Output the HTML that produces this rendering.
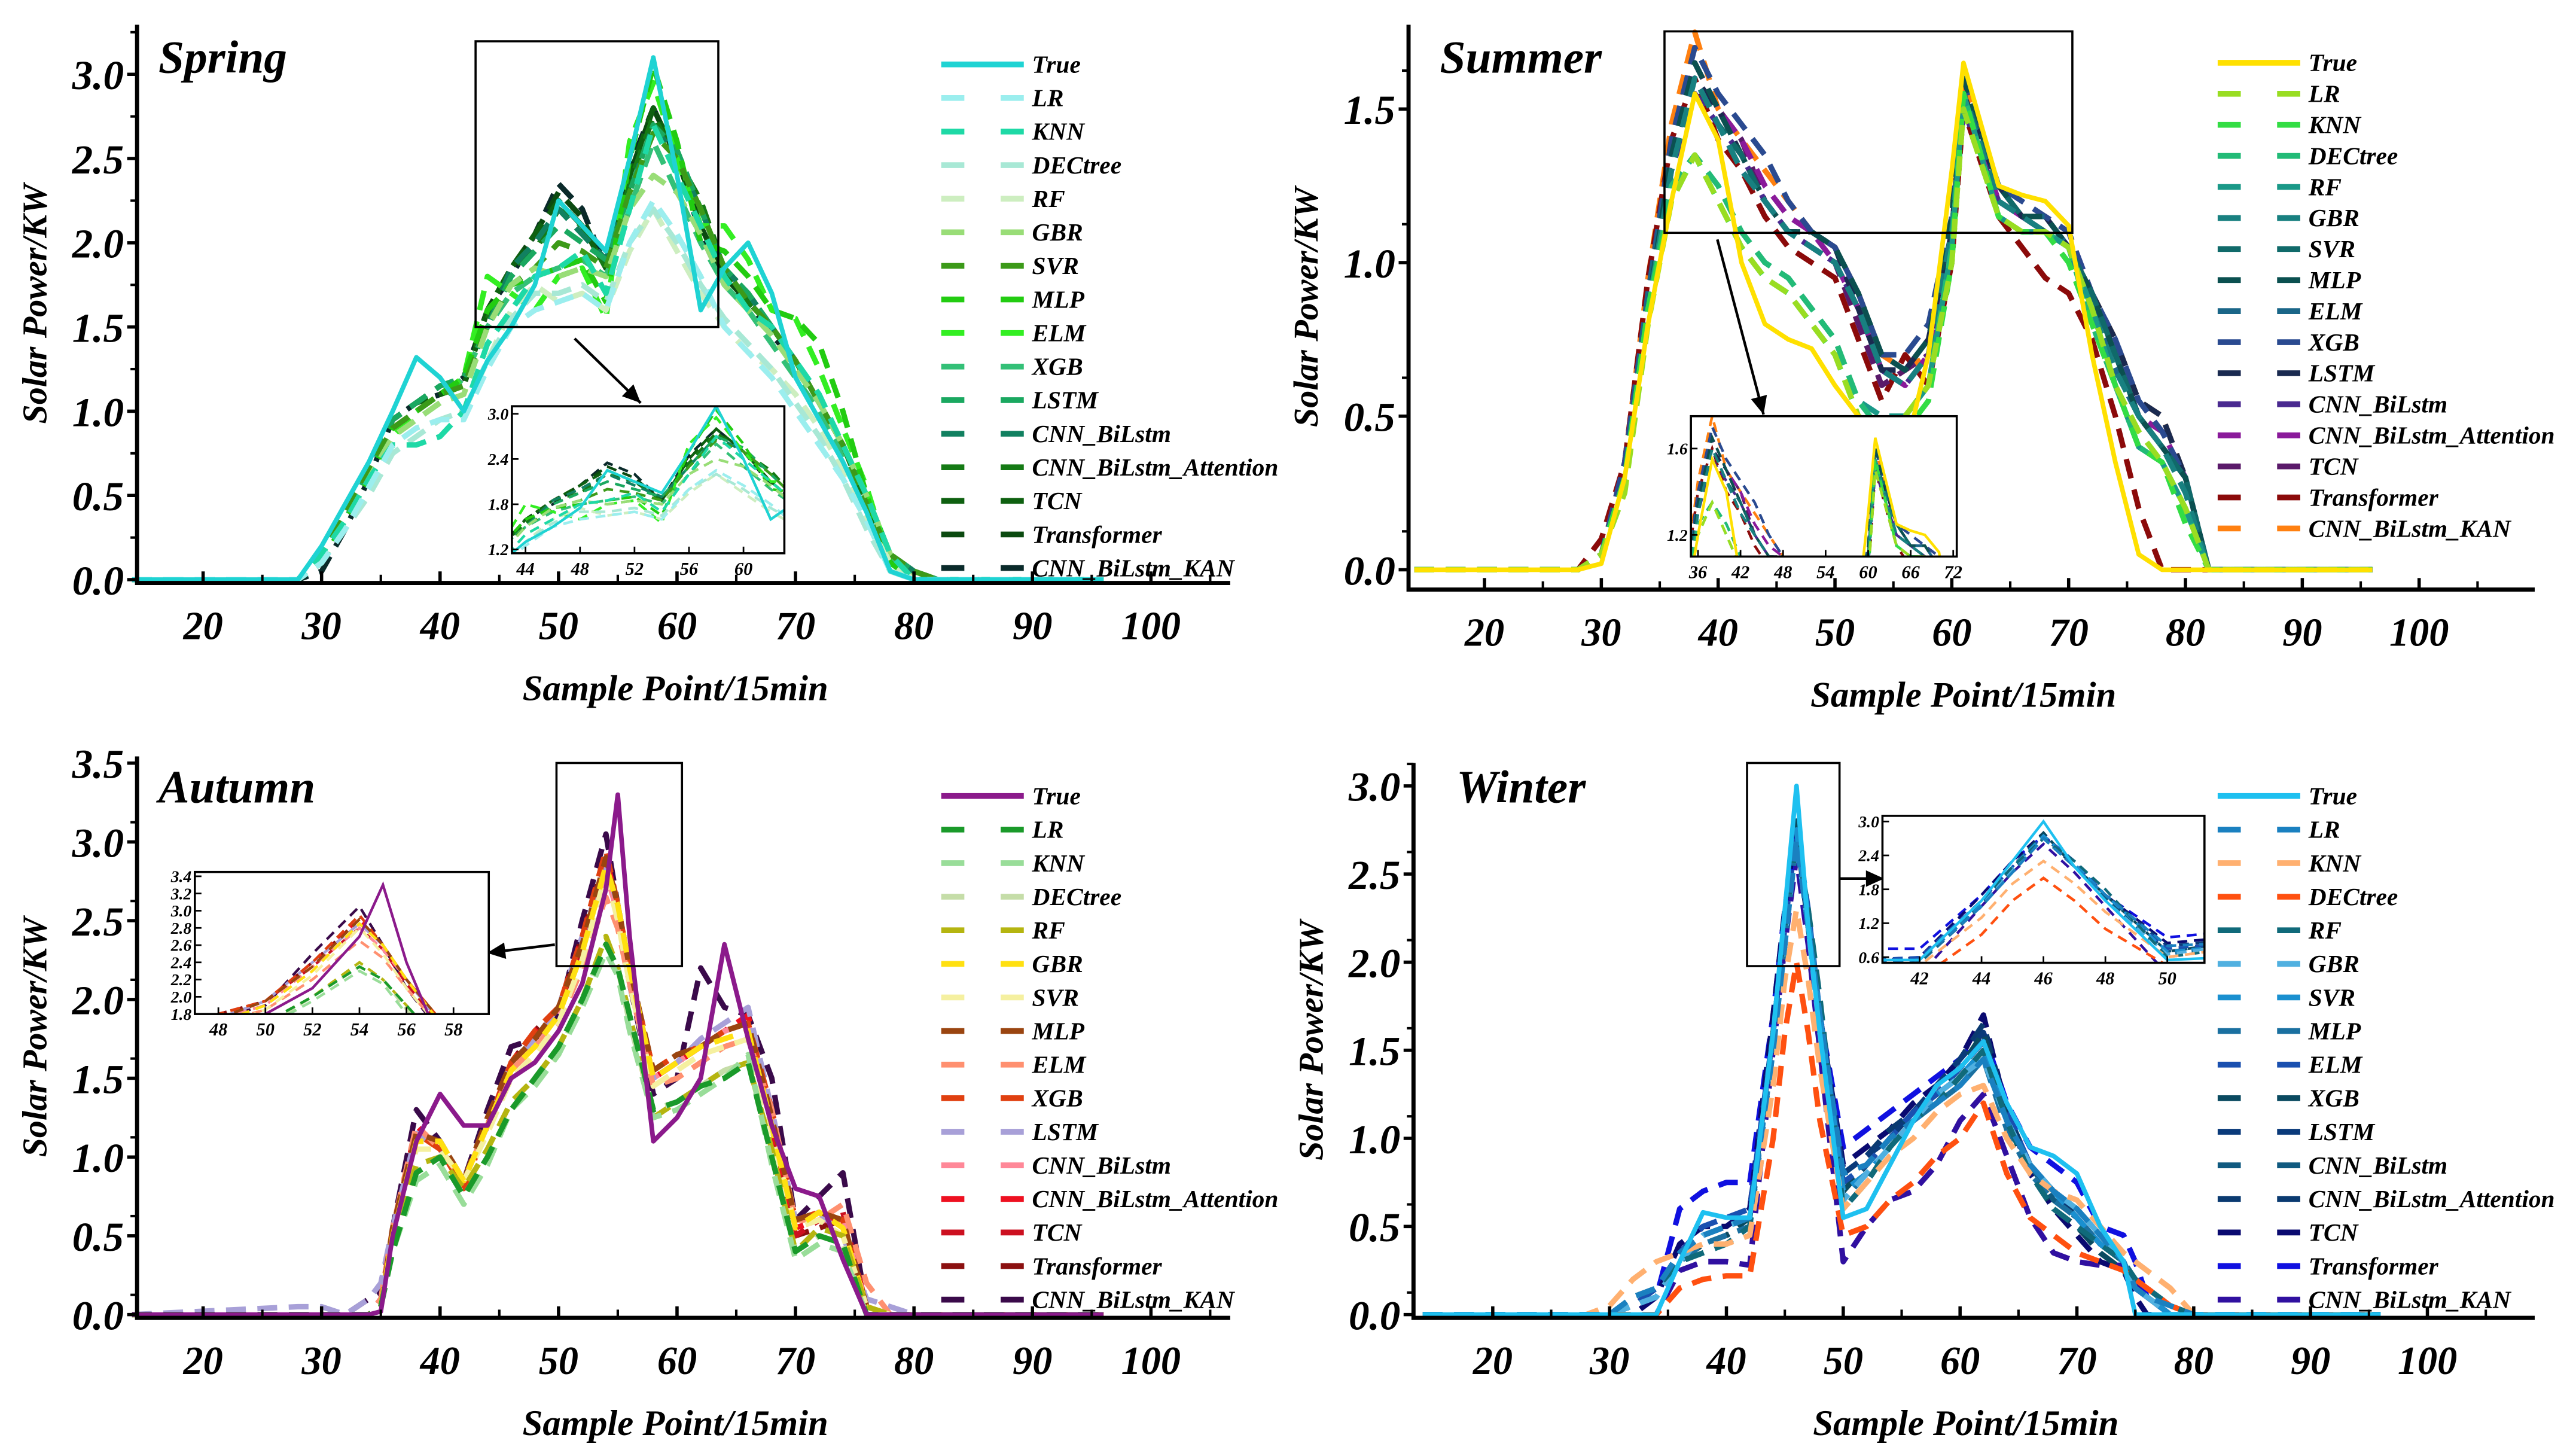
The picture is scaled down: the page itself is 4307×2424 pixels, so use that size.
<!DOCTYPE html>
<html><head><meta charset="utf-8"><style>
html,body{margin:0;padding:0;background:#fff;}
svg{display:block;}
text{font-family:"Liberation Serif",serif;font-weight:bold;font-style:italic;}
</style></head><body>
<svg id="fig" width="4307" height="2424" viewBox="0 0 1560 878" preserveAspectRatio="none" xmlns="http://www.w3.org/2000/svg"></svg>
<script>
const models=["True","LR","KNN","DECtree","RF","GBR","SVR","MLP","ELM","XGB","LSTM","CNN_BiLstm","CNN_BiLstm_Attention","TCN","Transformer","CNN_BiLstm_KAN"];

const springX=[28,30,32,34,36,38,40,42,44,46,48,50,52,54,56,58,60,62,64,66,68,70,72,74,76,78,80,82];
const springY=[
[0,0.2,0.45,0.7,1.0,1.32,1.2,1.0,1.3,1.5,1.75,2.25,2.1,1.95,2.5,3.1,2.4,1.6,1.85,2.0,1.7,1.2,0.95,0.7,0.4,0.05,0,0],
[0,0.1,0.3,0.55,0.8,0.9,0.95,0.95,1.25,1.5,1.6,1.65,1.7,1.6,2.0,2.25,2.05,1.8,1.5,1.35,1.2,1.0,0.8,0.6,0.35,0.05,0,0],
[0,0.15,0.35,0.6,0.8,0.8,0.85,1.0,1.4,1.6,1.8,1.85,1.95,1.7,2.2,2.7,2.4,2.1,1.8,1.6,1.5,1.3,1.1,0.8,0.5,0.15,0,0],
[0,0.1,0.3,0.5,0.75,0.85,0.95,1.0,1.3,1.55,1.7,1.7,1.75,1.65,2.0,2.2,2.0,1.75,1.55,1.4,1.25,1.05,0.85,0.6,0.3,0.05,0,0],
[0,0.1,0.3,0.55,0.8,0.9,0.95,1.0,1.3,1.6,1.75,1.65,1.7,1.6,1.95,2.2,1.95,1.7,1.5,1.35,1.25,1.1,0.9,0.65,0.35,0.1,0,0],
[0,0.15,0.35,0.6,0.85,0.95,1.05,1.1,1.5,1.75,1.85,1.8,1.85,1.8,2.2,2.4,2.3,2.05,1.75,1.6,1.45,1.25,1.05,0.8,0.5,0.15,0,0],
[0,0.15,0.4,0.65,0.9,1.0,1.1,1.15,1.5,1.75,1.85,2.0,1.95,1.85,2.3,2.65,2.5,2.2,1.85,1.65,1.5,1.3,1.05,0.8,0.45,0.15,0.05,0],
[0,0.1,0.35,0.6,0.9,1.0,1.1,1.2,1.6,1.75,1.8,1.85,1.9,1.65,2.5,3.05,2.6,2.0,1.95,1.8,1.6,1.55,1.4,1.0,0.5,0.1,0,0],
[0,0.1,0.35,0.6,0.85,1.0,1.1,1.2,1.8,1.7,1.6,1.8,1.85,1.55,2.6,2.95,2.5,2.1,2.1,1.9,1.6,1.55,1.25,0.9,0.55,0.1,0,0],
[0,0.15,0.35,0.6,0.85,0.95,1.05,1.2,1.5,1.7,1.8,1.85,1.9,1.8,2.2,2.6,2.3,2.0,1.75,1.6,1.4,1.2,1.0,0.75,0.45,0.15,0,0],
[0,0.1,0.35,0.65,0.95,1.05,1.15,1.2,1.5,1.8,1.95,2.1,2.0,1.9,2.3,2.7,2.55,2.2,1.85,1.7,1.5,1.3,1.05,0.8,0.5,0.15,0.05,0],
[0,0.1,0.35,0.65,0.95,1.05,1.15,1.2,1.5,1.85,2.0,2.2,2.05,1.9,2.3,2.7,2.5,2.2,1.85,1.7,1.5,1.3,1.05,0.8,0.5,0.15,0.05,0],
[0,0.1,0.35,0.65,0.95,1.05,1.15,1.2,1.55,1.85,1.95,2.2,2.1,1.85,2.35,2.75,2.5,2.25,1.85,1.65,1.5,1.3,1.05,0.8,0.45,0.15,0.05,0],
[0,0.1,0.35,0.65,0.95,1.05,1.1,1.15,1.6,1.85,2.05,2.25,2.1,1.85,2.4,2.8,2.5,2.1,1.8,1.7,1.5,1.3,1.05,0.8,0.5,0.15,0.05,0],
[0,0.1,0.35,0.65,0.95,1.05,1.1,1.2,1.6,1.85,2.05,2.3,2.15,1.85,2.4,2.8,2.5,2.1,1.8,1.65,1.5,1.3,1.05,0.8,0.45,0.1,0.05,0],
[0,0.05,0.3,0.6,0.95,1.05,1.1,1.2,1.6,1.8,2.05,2.35,2.2,1.85,2.45,2.8,2.5,2.05,1.75,1.65,1.45,1.3,1.05,0.8,0.45,0.1,0.05,0]];
const springColors=["#1fd3d3","#9beeee","#1ed9a6","#a8e8d5","#cdeec0","#99dd77","#3c9a19","#22cc11","#33ee22","#33c077","#1aa860","#118060","#157a15","#0e6010","#0b4a10","#0a2a2a"];

const summerX=[28,30,32,34,36,38,40,42,44,46,48,50,52,54,56,58,60,61,64,66,68,70,72,74,76,78,80,82];
const summerY=[
[0,0.02,0.3,0.8,1.2,1.55,1.4,1.0,0.8,0.75,0.72,0.6,0.5,0.45,0.38,0.7,1.3,1.65,1.25,1.22,1.2,1.12,0.7,0.35,0.05,0,0,0],
[0,0.05,0.25,0.8,1.2,1.35,1.2,1.05,0.95,0.9,0.8,0.7,0.5,0.45,0.5,0.6,1.0,1.5,1.15,1.1,1.1,1.05,0.85,0.6,0.45,0.35,0.2,0],
[0,0.05,0.3,0.85,1.2,1.35,1.2,1.05,0.95,0.9,0.8,0.7,0.5,0.4,0.45,0.55,1.0,1.55,1.15,1.1,1.1,1.0,0.8,0.6,0.4,0.35,0.15,0],
[0,0.05,0.3,0.85,1.25,1.35,1.25,1.1,1.0,0.95,0.85,0.75,0.55,0.45,0.5,0.6,1.05,1.55,1.15,1.1,1.1,1.05,0.8,0.6,0.4,0.35,0.2,0],
[0,0.05,0.3,0.85,1.25,1.35,1.25,1.1,1.0,0.95,0.85,0.75,0.55,0.5,0.5,0.6,1.05,1.55,1.15,1.1,1.1,1.05,0.85,0.6,0.4,0.35,0.2,0],
[0,0.05,0.3,0.85,1.3,1.6,1.45,1.3,1.2,1.1,1.05,1.0,0.85,0.65,0.6,0.7,1.1,1.55,1.2,1.15,1.1,1.05,0.85,0.65,0.5,0.4,0.25,0],
[0,0.05,0.3,0.85,1.3,1.6,1.45,1.35,1.2,1.1,1.05,1.0,0.85,0.65,0.6,0.7,1.1,1.55,1.25,1.15,1.1,1.05,0.9,0.7,0.5,0.4,0.3,0],
[0,0.05,0.3,0.85,1.35,1.65,1.5,1.35,1.2,1.1,1.1,1.05,0.9,0.7,0.65,0.75,1.15,1.6,1.25,1.15,1.15,1.05,0.9,0.7,0.5,0.4,0.3,0],
[0,0.05,0.3,0.9,1.35,1.6,1.45,1.3,1.2,1.1,1.05,1.0,0.85,0.65,0.6,0.7,1.1,1.55,1.2,1.15,1.15,1.05,0.85,0.65,0.5,0.4,0.3,0],
[0,0.05,0.35,0.9,1.4,1.7,1.55,1.45,1.35,1.2,1.1,1.05,0.9,0.7,0.7,0.8,1.15,1.6,1.25,1.2,1.15,1.1,0.9,0.75,0.55,0.45,0.3,0],
[0,0.05,0.3,0.9,1.35,1.6,1.5,1.35,1.2,1.1,1.1,1.05,0.85,0.65,0.65,0.75,1.1,1.55,1.25,1.15,1.15,1.05,0.9,0.75,0.55,0.5,0.3,0],
[0,0.05,0.3,0.85,1.3,1.55,1.45,1.35,1.2,1.1,1.05,1.0,0.85,0.65,0.6,0.7,1.05,1.5,1.2,1.15,1.1,1.05,0.85,0.7,0.5,0.4,0.3,0],
[0,0.05,0.35,0.9,1.35,1.65,1.5,1.4,1.25,1.15,1.1,1.0,0.85,0.65,0.6,0.7,1.1,1.55,1.2,1.15,1.15,1.1,0.9,0.7,0.5,0.45,0.3,0],
[0,0.05,0.3,0.9,1.35,1.6,1.5,1.4,1.2,1.1,1.05,1.0,0.8,0.6,0.65,0.7,1.1,1.5,1.2,1.15,1.1,1.05,0.85,0.7,0.5,0.4,0.3,0],
[0,0.1,0.35,0.95,1.4,1.6,1.4,1.3,1.15,1.05,1.0,0.95,0.75,0.55,0.7,0.6,1.0,1.5,1.15,1.05,0.95,0.9,0.75,0.5,0.2,0,0,0],
[0,0.05,0.35,0.95,1.45,1.75,1.5,1.4,1.3,1.2,1.1,1.05,0.9,0.7,0.65,0.7,1.1,1.6,1.25,1.15,1.1,1.05,0.9,0.75,0.55,0.5,0.3,0]];
const summerColors=["#ffe000","#99dd22","#33dd44","#22bb77","#1a9988","#188080","#106a6a","#0b5050","#1a6688","#2a4a90","#1a2a50","#4a2a90","#8a1a9a","#5a1a6a","#8b0a0a","#ff8010"];

const autumnX=[28,30,32,34,35,36,38,40,42,44,46,48,50,52,54,55,56,58,60,62,64,66,68,70,72,74,76,78,80,82];
const autumnY=[
[0,0,0,0,0.02,0.5,1.1,1.4,1.2,1.2,1.5,1.6,1.8,2.1,2.7,3.3,2.4,1.1,1.25,1.5,2.35,1.75,1.2,0.8,0.75,0.35,0,0,0,0],
[0,0,0,0,0.05,0.4,0.9,1.0,0.75,1.0,1.3,1.5,1.7,2.0,2.35,2.2,1.9,1.3,1.35,1.45,1.5,1.6,1.0,0.4,0.5,0.45,0,0,0,0],
[0,0,0,0,0.05,0.4,0.85,0.95,0.7,0.95,1.3,1.45,1.65,1.95,2.3,2.15,1.8,1.25,1.3,1.4,1.5,1.65,0.95,0.35,0.45,0.4,0,0,0,0],
[0,0,0,0,0.05,0.4,0.9,1.0,0.75,1.0,1.3,1.5,1.65,2.0,2.35,2.2,1.85,1.3,1.35,1.45,1.55,1.6,1.0,0.4,0.5,0.45,0,0,0,0],
[0,0,0,0,0.05,0.45,0.95,1.0,0.8,1.05,1.35,1.5,1.7,2.0,2.4,2.2,1.9,1.25,1.35,1.45,1.55,1.6,1.05,0.4,0.55,0.5,0.05,0,0,0],
[0,0,0,0,0.05,0.5,1.1,1.1,0.85,1.2,1.55,1.7,1.9,2.3,2.85,2.6,2.2,1.5,1.6,1.7,1.75,1.8,1.2,0.55,0.65,0.55,0.05,0,0,0],
[0,0,0,0,0.05,0.5,1.05,1.05,0.85,1.15,1.5,1.65,1.85,2.25,2.8,2.5,2.1,1.45,1.55,1.65,1.7,1.75,1.15,0.55,0.6,0.5,0.05,0,0,0],
[0,0,0,0,0.05,0.55,1.15,1.1,0.85,1.25,1.6,1.75,1.95,2.35,2.9,2.6,2.2,1.55,1.65,1.7,1.8,1.85,1.25,0.6,0.65,0.6,0.05,0,0,0],
[0,0,0,0,0.1,0.55,1.2,1.05,0.85,1.2,1.55,1.7,1.85,2.2,2.65,2.45,2.1,1.45,1.5,1.6,1.7,1.75,1.3,0.6,0.6,0.7,0.2,0,0,0],
[0,0,0,0,0.05,0.55,1.15,1.05,0.8,1.2,1.6,1.8,1.95,2.4,2.95,2.6,2.2,1.55,1.65,1.7,1.8,1.85,1.3,0.6,0.65,0.6,0.05,0,0,0],
[0.05,0.05,0,0.1,0.2,0.55,1.15,1.05,0.85,1.2,1.6,1.75,1.95,2.4,2.85,2.6,2.2,1.5,1.6,1.75,1.85,1.95,1.3,0.6,0.65,0.5,0.1,0.05,0,0],
[0,0,0,0,0.05,0.5,1.15,1.05,0.85,1.2,1.55,1.75,1.9,2.35,2.8,2.55,2.2,1.5,1.6,1.7,1.8,1.85,1.25,0.55,0.6,0.6,0.05,0,0,0],
[0,0,0,0,0.05,0.5,1.2,1.05,0.85,1.2,1.6,1.8,1.95,2.4,2.9,2.6,2.2,1.5,1.6,1.7,1.8,1.9,1.2,0.55,0.6,0.6,0.05,0,0,0],
[0,0,0,0,0.05,0.5,1.2,1.05,0.85,1.2,1.6,1.8,1.95,2.35,2.8,2.55,2.15,1.5,1.6,1.7,1.8,1.85,1.2,0.5,0.6,0.65,0.05,0,0,0],
[0,0,0,0,0.1,0.5,1.2,1.05,0.85,1.2,1.6,1.8,1.95,2.4,2.9,2.6,2.2,1.5,1.6,1.7,1.8,1.85,1.2,0.5,0.55,0.6,0,0,0,0],
[0,0,0,0.1,0.15,0.55,1.3,1.1,0.85,1.3,1.7,1.75,1.9,2.5,3.05,2.6,2.1,1.4,1.5,2.2,1.95,1.9,1.5,0.6,0.75,0.9,0.05,0,0,0]];
const autumnColors=["#8b1a8b","#1a9a2a","#99dd99","#c5dda8","#b5b510","#ffe010","#f5f0a0","#9a4510","#ff9070","#e04010","#a8a0d8","#ff8898","#ee1020","#cc1020","#8b1010","#3a0a4a"];

const winterX=[28,30,32,34,36,38,40,42,44,45,46,47,48,50,52,54,56,58,60,62,64,66,68,70,72,74,75,76,78,80,82];
const winterY=[
[0,0,0,0,0.3,0.58,0.55,0.55,1.6,2.3,3.0,2.2,1.6,0.55,0.6,0.85,1.1,1.3,1.4,1.55,1.2,0.95,0.9,0.8,0.5,0.3,0,0,0,0,0],
[0,0,0.1,0.15,0.35,0.45,0.5,0.55,1.5,2.1,2.7,2.2,1.7,0.8,0.85,1.0,1.1,1.2,1.3,1.45,1.1,0.85,0.7,0.6,0.45,0.3,0.15,0.1,0.05,0,0],
[0,0.05,0.2,0.3,0.35,0.4,0.4,0.45,1.3,1.9,2.3,1.9,1.4,0.6,0.75,0.9,1.0,1.15,1.25,1.3,1.0,0.8,0.7,0.65,0.5,0.35,0.3,0.25,0.15,0,0],
[0,0,0,0,0.15,0.2,0.22,0.22,1.0,1.6,2.0,1.6,1.1,0.45,0.5,0.65,0.75,0.9,1.0,1.2,0.8,0.55,0.45,0.35,0.3,0.25,0.2,0.15,0.05,0,0],
[0,0,0.1,0.15,0.3,0.35,0.4,0.5,1.6,2.2,2.7,2.3,1.8,0.6,0.75,0.95,1.1,1.2,1.35,1.5,1.1,0.8,0.6,0.5,0.4,0.3,0.2,0.15,0.05,0,0],
[0,0,0.05,0.1,0.3,0.45,0.5,0.55,1.5,2.15,2.7,2.2,1.6,0.65,0.8,0.95,1.1,1.25,1.35,1.45,1.1,0.85,0.7,0.6,0.45,0.3,0.15,0.1,0,0,0],
[0,0,0.05,0.1,0.3,0.45,0.5,0.55,1.55,2.2,2.75,2.25,1.7,0.7,0.8,0.95,1.1,1.25,1.35,1.5,1.1,0.85,0.7,0.55,0.4,0.3,0.15,0.1,0,0,0],
[0,0,0.05,0.1,0.3,0.4,0.45,0.5,1.5,2.1,2.7,2.2,1.6,0.65,0.8,0.95,1.1,1.2,1.3,1.45,1.05,0.8,0.65,0.55,0.4,0.3,0.15,0.1,0,0,0],
[0,0,0.05,0.15,0.35,0.5,0.55,0.6,1.6,2.2,2.75,2.3,1.7,0.75,0.85,1.0,1.15,1.25,1.4,1.55,1.15,0.85,0.7,0.6,0.45,0.3,0.15,0.1,0,0,0],
[0,0,0.1,0.15,0.3,0.4,0.45,0.55,1.6,2.2,2.8,2.2,1.7,0.7,0.85,1.0,1.15,1.25,1.4,1.6,1.1,0.8,0.6,0.5,0.35,0.25,0.15,0.1,0,0,0],
[0,0,0.05,0.15,0.35,0.45,0.5,0.55,1.6,2.2,2.75,2.25,1.7,0.8,0.9,1.0,1.15,1.3,1.45,1.6,1.1,0.85,0.7,0.55,0.4,0.3,0.15,0.1,0,0,0],
[0,0,0.05,0.15,0.3,0.4,0.45,0.5,1.55,2.15,2.7,2.2,1.65,0.7,0.85,1.0,1.15,1.25,1.4,1.55,1.1,0.85,0.65,0.55,0.4,0.3,0.15,0.1,0,0,0],
[0,0,0.05,0.15,0.35,0.45,0.5,0.55,1.6,2.2,2.75,2.2,1.7,0.8,0.9,1.05,1.15,1.3,1.45,1.65,1.15,0.85,0.7,0.55,0.4,0.3,0.15,0.1,0,0,0],
[0,0,0,0.1,0.4,0.5,0.5,0.6,1.7,2.3,2.8,2.2,1.7,0.85,0.95,1.05,1.2,1.3,1.45,1.7,1.15,0.8,0.6,0.45,0.3,0.25,0.1,0,0,0,0],
[0,0,0,0.1,0.6,0.7,0.75,0.75,1.7,2.3,2.75,2.2,1.7,0.95,1.05,1.15,1.25,1.35,1.45,1.6,1.2,0.95,0.85,0.75,0.5,0.45,0.3,0.1,0,0,0],
[0,0,0,0,0.25,0.3,0.3,0.28,1.5,2.1,2.6,2.1,1.5,0.3,0.5,0.65,0.7,0.85,1.1,1.25,0.9,0.55,0.35,0.3,0.28,0.28,0.2,0.1,0,0,0]];
const winterColors=["#1ec0f0","#1a80c0","#ffb070","#ff5010","#106a7a","#50b0e0","#1a90d0","#1a70a0","#1a50b0","#0a4a60","#0a3a7a","#105a80","#0a3a70","#0a0a70","#1010e0","#3010a0"];

const springYTicks=["0.0","0.5","1.0","1.5","2.0","2.5","3.0"];
const summerYTicks=["0.0","0.5","1.0","1.5"];
const autumnYTicks=["0.0","0.5","1.0","1.5","2.0","2.5","3.0","3.5"];
const winterYTicks=["0.0","0.5","1.0","1.5","2.0","2.5","3.0"];
const xTicks=[20,30,40,50,60,70,80,90,100];

const NS="http://www.w3.org/2000/svg";
const svg=document.getElementById('fig');
function el(tag,attrs,parent){const e=document.createElementNS(NS,tag);for(const k in attrs)e.setAttribute(k,attrs[k]);(parent||svg).appendChild(e);return e;}
let clipId=0;

function drawPanel(P){
  const g=el('g',{});
  
  
  const sx=v=>P.x20+(v-20)*(P.x100-P.x20)/80;
  const sy=v=>P.y0-v*P.ypu;
  const pts=(i,fx,fy)=>{const xs=[14].concat(P.xs,[96]);const ys=[0].concat(P.ys[i],[0]);return xs.map((x,j)=>fx(x).toFixed(2)+','+fy(ys[j]).toFixed(2)).join(' ');};
  for(let i=P.ys.length-1;i>=0;i--){
    const l=el('polyline',{points:pts(i,sx,sy),fill:'none',stroke:P.colors[i],'stroke-width':i===0?2.8:3.3,'stroke-linejoin':'round'},g);
    if(i) l.setAttribute('stroke-dasharray','12,7');
    
    
  }
  const ax=el('path',{d:`M${P.ax},${P.yTop} L${P.ax},${P.axY} L${P.axR},${P.axY}`,fill:'none',stroke:'#000','stroke-width':2.5},g);
  
  
  P.yticks.forEach((t,k)=>{
    const v=parseFloat(t),y=sy(v);
    el('line',{x1:P.ax-6,y1:y,x2:P.ax,y2:y,stroke:'#000','stroke-width':2},g);
    const mv=v+P.ystep/2;
    if(sy(mv)>P.yTop) el('line',{x1:P.ax-4,y1:sy(mv),x2:P.ax,y2:sy(mv),stroke:'#000','stroke-width':1.5},g);
    const tx=el('text',{x:P.ax-8,y:y+9,'text-anchor':'end','font-size':25},g);tx.textContent=t;
    
    
  });
  xTicks.forEach(v=>{
    const x=sx(v);
    el('line',{x1:x,y1:P.axY,x2:x,y2:P.axY-7,stroke:'#000','stroke-width':2},g);
    if(sx(v+5)<P.axR) el('line',{x1:sx(v+5),y1:P.axY,x2:sx(v+5),y2:P.axY-5,stroke:'#000','stroke-width':1.5},g);
    const tx=el('text',{x:x,y:P.axY+34,'text-anchor':'middle','font-size':24},g);tx.textContent=v;
    
    
  });
  const xt=el('text',{x:(P.ax+P.axR)/2-5,y:P.axY+71,'text-anchor':'middle','font-size':22},g);xt.textContent='Sample Point/15min';
  
  
  const cy=(P.yTop+P.axY)/2;
  const yt=el('text',{x:0,y:0,'text-anchor':'middle','font-size':21,transform:`translate(${P.ax-55},${cy}) rotate(-90)`,'font-family':'DejaVu Serif'},g);yt.textContent='Solar Power/KW';
  
  
  const tt=el('text',{x:P.titleX,y:P.titleY,'font-size':28},g);tt.textContent=P.title;
  
  
  models.forEach((m,i)=>{
    const y=P.legY+i*P.legStep;
    const lg=el('g',{},g);
    
    
    const ln=el('line',{x1:P.legX,y1:y,x2:P.legX+50,y2:y,stroke:P.colors[i],'stroke-width':3.5},lg);
    if(i) ln.setAttribute('stroke-dasharray','14,22');
    const t=el('text',{x:P.legX+55,y:y+5,'font-size':15},lg);t.textContent=m;
  });
  const zr=el('rect',{x:P.rect[0],y:P.rect[1],width:P.rect[2]-P.rect[0],height:P.rect[3]-P.rect[1],fill:'none',stroke:'#000','stroke-width':1.3},g);
  
  
  el('line',{x1:P.arrow[0],y1:P.arrow[1],x2:P.arrow[2],y2:P.arrow[3],stroke:'#000','stroke-width':1.6},g);
  const a=Math.atan2(P.arrow[3]-P.arrow[1],P.arrow[2]-P.arrow[0]);const L=11,W=5;
  const hx=P.arrow[2],hy=P.arrow[3];
  el('polygon',{points:`${hx},${hy} ${hx-L*Math.cos(a)+W*Math.sin(a)},${hy-L*Math.sin(a)-W*Math.cos(a)} ${hx-L*Math.cos(a)-W*Math.sin(a)},${hy-L*Math.sin(a)+W*Math.cos(a)}`,fill:'#000'},g);
  const I=P.inset;
  const ig=el('g',{},g);
  
  
  el('rect',{x:I.x1,y:I.y1,width:I.x2-I.x1,height:I.y2-I.y1,fill:'#fff'},ig);
  const cid='clip'+(clipId++);
  const cp=el('clipPath',{id:cid},ig);el('rect',{x:I.x1,y:I.y1,width:I.x2-I.x1,height:I.y2-I.y1},cp);
  const ix=v=>I.x1+(v-I.xmin)*(I.x2-I.x1)/(I.xmax-I.xmin);
  const iy=v=>I.y2-(v-I.ymin)*(I.y2-I.y1)/(I.ymax-I.ymin);
  const cg=el('g',{'clip-path':`url(#${cid})`},ig);
  for(let i=P.ys.length-1;i>=0;i--){
    const l=el('polyline',{points:pts(i,ix,iy),fill:'none',stroke:P.colors[i],'stroke-width':1.6},cg);
    if(i) l.setAttribute('stroke-dasharray','6,4');
  }
  el('rect',{x:I.x1,y:I.y1,width:I.x2-I.x1,height:I.y2-I.y1,fill:'none',stroke:'#000','stroke-width':1.3},ig);
  I.yt.forEach(v=>{const y=iy(v);el('line',{x1:I.x1,y1:y,x2:I.x1+4,y2:y,stroke:'#000','stroke-width':1},ig);
    const t=el('text',{x:I.x1-2,y:y+3.5,'text-anchor':'end','font-size':10},ig);t.textContent=v.toFixed(1);});
  I.xt.forEach(v=>{const x=ix(v);el('line',{x1:x,y1:I.y2,x2:x,y2:I.y2-4,stroke:'#000','stroke-width':1},ig);
    const t=el('text',{x:x,y:I.y2+13,'text-anchor':'middle','font-size':11},ig);t.textContent=v;});
}

drawPanel({key:'spring',title:'Spring',titleX:96,titleY:44,xs:springX,ys:springY,colors:springColors,
  x20:123,x100:697,y0:351,ypu:102,ax:83,axY:353,axR:745,yTop:15,yticks:springYTicks,ystep:0.5,
  legX:570,legY:39,legStep:20.33,rect:[288,25,435,198],arrow:[348,205,388,244],
  inset:{x1:310,y1:246,x2:475,y2:335,xmin:43,xmax:63,ymin:1.15,ymax:3.1,yt:[1.2,1.8,2.4,3.0],xt:[44,48,52,56,60]}});
drawPanel({key:'summer',title:'Summer',titleX:872,titleY:44,xs:summerX,ys:summerY,colors:summerColors,
  x20:899,x100:1465,y0:345,ypu:186,ax:853,axY:357,axR:1535,yTop:15,yticks:summerYTicks,ystep:0.25,
  legX:1343,legY:38,legStep:18.8,rect:[1008,19,1255,141],arrow:[1040,145,1068,251],
  inset:{x1:1024,y1:252,x2:1185,y2:337,xmin:35,xmax:72.5,ymin:1.1,ymax:1.75,yt:[1.2,1.6],xt:[36,42,48,54,60,66,72]}});
drawPanel({key:'autumn',title:'Autumn',titleX:96,titleY:486,xs:autumnX,ys:autumnY,colors:autumnColors,
  x20:123,x100:697,y0:796,ypu:95.4,ax:83,axY:798,axR:745,yTop:458,yticks:autumnYTicks,ystep:0.25,
  legX:570,legY:482,legStep:20.33,rect:[337,462,413,585],arrow:[336,572,295,577],
  inset:{x1:118,y1:528,x2:296,y2:614,xmin:47,xmax:59.5,ymin:1.8,ymax:3.45,yt:[1.8,2.0,2.2,2.4,2.6,2.8,3.0,3.2,3.4],xt:[48,50,52,54,56,58]}});
drawPanel({key:'winter',title:'Winter',titleX:882,titleY:486,xs:winterX,ys:winterY,colors:winterColors,
  x20:904,x100:1470,y0:796,ypu:106.7,ax:856,axY:798,axR:1535,yTop:462,yticks:winterYTicks,ystep:0.25,
  legX:1343,legY:482,legStep:20.33,rect:[1058,462,1114,585],arrow:[1114,532,1141,532],
  inset:{x1:1140,y1:494,x2:1335,y2:583,xmin:40.8,xmax:51.2,ymin:0.5,ymax:3.1,yt:[0.6,1.2,1.8,2.4,3.0],xt:[42,44,46,48,50]}});
</script>
</body></html>
